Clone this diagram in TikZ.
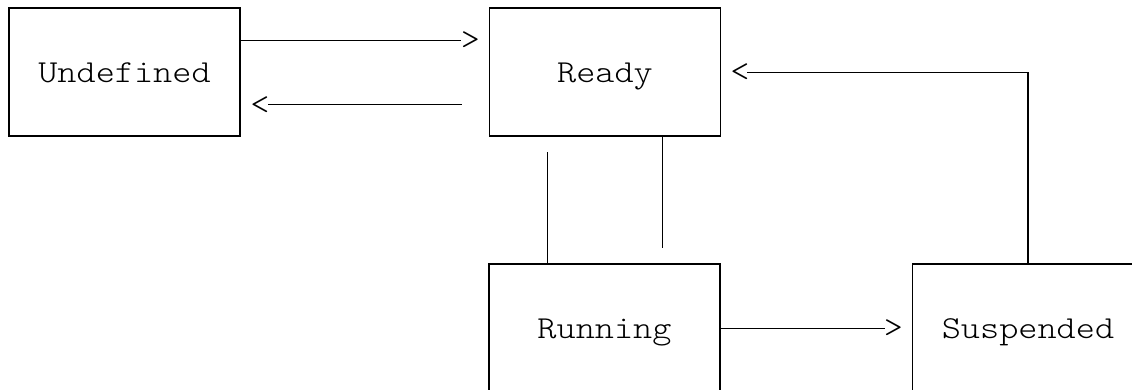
\documentclass[tikz,border=0pt]{standalone}
\usepackage{fontspec}
\setmonofont{lmmonolt10-regular.otf}[FakeStretch=1.14]
\begin{document}
\begin{tikzpicture}[x=1pt,y=-1pt,
  every node/.style={font=\ttfamily\fontsize{32}{38}\selectfont},
  statebox/.style={draw,line width=1.1pt,rectangle,minimum width=231pt,minimum height=128pt,inner sep=0pt,text height=20pt,text depth=0pt},
  tipchar/.style={inner sep=0pt,anchor=base},
  conn/.style={line width=1.1pt}]
\clip (0,0) rectangle (1132,389);
\fill[white] (0,0) rectangle (1132,389);
\node[statebox] (undef) at (124.5,72) {Undefined};
\node[statebox] (ready) at (605,72) {Ready};
\node[statebox] (run) at (604.5,328) {Running};
\node[statebox] (susp) at (1028,328) {Suspended};
% arrow characters
\node[tipchar] (gt1) at (470.5,49) {>};
\node[tipchar] (lt1) at (260,114) {<};
\node[tipchar] (lt2) at (740,81.5) {<};
\node[tipchar] (gt2) at (893.5,337) {>};
% connector ends
\coordinate (a1) at (461,40.3);
\coordinate (a2) at (268,104.3);
\coordinate (a2s) at (461.7,104.3);
\coordinate (a3) at (747,72.3);
\coordinate (a4) at (885,328.3);
\coordinate (c1) at (547.3,152);
\coordinate (c2) at (662.7,248);
\draw[conn] (undef.east |- a1) -- (a1);
\draw[conn] (a2s) -- (a2);
\draw[conn] (a3) -| (susp.north);
\draw[conn] (run.east |- a4) -- (a4);
\draw[conn] (c1) -- (c1 |- run.north);
\draw[conn] (c2 |- ready.south) -- (c2);
\end{tikzpicture}
\end{document}
